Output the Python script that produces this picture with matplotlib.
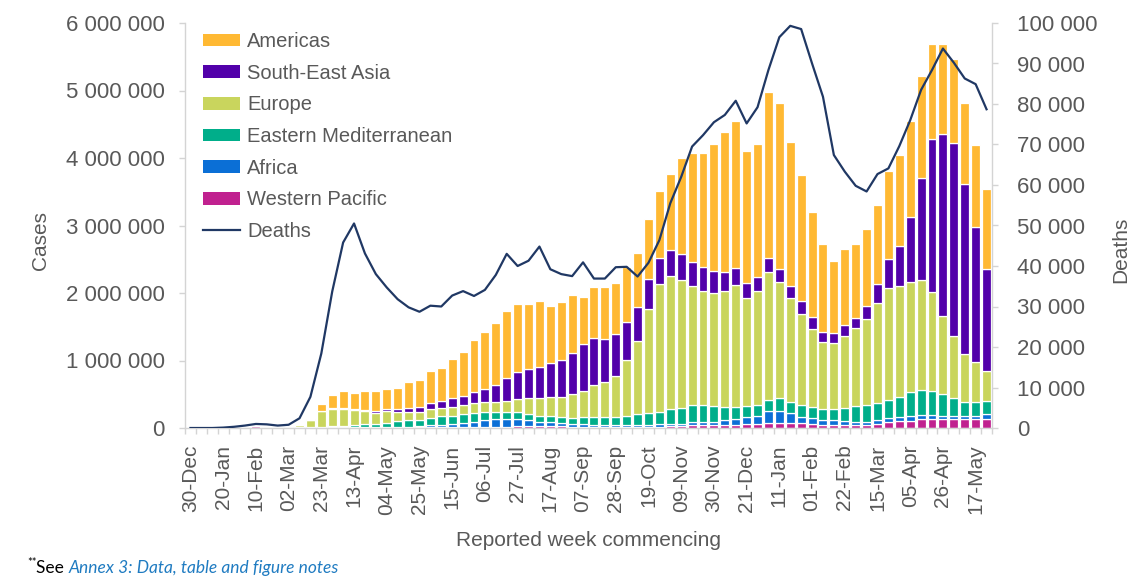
import matplotlib
matplotlib.use('Agg')
import matplotlib.pyplot as plt
import numpy as np
from matplotlib.patches import Patch
from matplotlib.lines import Line2D
from matplotlib.ticker import FuncFormatter, FixedLocator

# ---------------- data (weekly, thousands) ----------------
tick_labels = ["30-Dec", "20-Jan", "10-Feb", "02-Mar", "23-Mar", "13-Apr", "04-May",
               "25-May", "15-Jun", "06-Jul", "27-Jul", "17-Aug", "07-Sep", "28-Sep",
               "19-Oct", "09-Nov", "30-Nov", "21-Dec", "11-Jan", "01-Feb", "22-Feb",
               "15-Mar", "05-Apr", "26-Apr", "17-May"]

western_pacific = [0.1, 0.1, 0.2, 1.5, 10, 18, 25, 10, 5, 6, 5, 4, 5, 6, 7, 8, 7, 6, 5, 7,
                   10, 8, 10, 8, 10, 8, 9, 10, 14, 20, 30, 30, 30, 28, 25, 22, 20, 20, 18, 18,
                   17, 18, 20, 22, 25, 30, 50, 50, 50, 50, 44, 55, 55, 70, 79, 79, 70, 55, 44, 44,
                   44, 44, 44, 59, 84, 104, 108, 133, 133, 133, 133, 133, 133, 133]
africa = [0, 0, 0, 0, 0, 0, 0, 0, 0, 0, 0, 1, 2, 4, 5, 6, 7, 8, 10, 10,
          12, 16, 30, 38, 45, 70, 84, 109, 119, 113, 103, 89, 63, 55, 45, 40, 35, 30, 25, 22,
          22, 25, 27, 30, 30, 35, 43, 43, 45, 69, 85, 112, 127, 182, 177, 148, 97, 89, 75, 75,
          60, 49, 49, 60, 69, 63, 74, 60, 60, 49, 49, 49, 49, 70]
eastern_mediterranean = [0, 0, 0, 0, 0, 0, 0, 0, 1, 5, 7, 9, 12, 18, 22, 26, 41, 41, 63, 87,
                         96, 94, 112, 132, 127, 125, 125, 114, 100, 100, 100, 84, 89, 99, 97, 91, 104, 117, 124, 127,
                         143, 160, 180, 181, 222, 236, 248, 248, 235, 197, 187, 159, 159, 163, 184, 163, 174, 163, 162, 162,
                         188, 233, 248, 256, 262, 288, 347, 370, 360, 322, 258, 208, 208, 197]
europe = [0, 0, 0, 0, 0, 0, 0, 0, 1, 12, 30, 105, 233, 253, 247, 227, 197, 172, 174, 137,
          123, 123, 125, 125, 134, 138, 148, 148, 157, 167, 197, 237, 258, 273, 297, 346, 394, 470, 510, 608,
          825, 1086, 1532, 1896, 1975, 1892, 1763, 1689, 1674, 1714, 1803, 1595, 1693, 1892, 1719, 1540, 1348, 1160, 998, 983,
          1075, 1151, 1274, 1472, 1664, 1653, 1638, 1630, 1466, 1155, 923, 702, 592, 444]
south_east_asia = [0, 0, 0, 0, 0, 0, 0, 0, 0, 0, 0, 1, 3, 8, 10, 12, 15, 18, 29, 45,
                   60, 75, 89, 103, 133, 138, 167, 201, 251, 336, 395, 434, 468, 504, 543, 608, 691, 692, 642, 613,
                   568, 508, 448, 385, 385, 380, 351, 360, 326, 286, 247, 223, 199, 207, 197, 178, 192, 173, 139, 148,
                   159, 148, 192, 286, 425, 588, 963, 1506, 2262, 2697, 2864, 2523, 1991, 1507]
americas = [0, 0, 0, 0, 0, 0, 0, 0, 0, 1, 3, 15, 96, 200, 257, 244, 281, 303, 297, 310,
            376, 395, 474, 480, 569, 651, 771, 845, 919, 997, 1008, 959, 973, 853, 855, 863, 701, 764, 765, 756,
            815, 800, 889, 1002, 1126, 1431, 1624, 1680, 1877, 2074, 2182, 1964, 1970, 2468, 2454, 2125, 1867, 1564, 1308, 1062,
            1121, 1101, 1141, 1171, 1303, 1348, 1423, 1520, 1408, 1333, 1235, 1195, 1220, 1190]
deaths = [0, 0, 0, 0.1, 0.3, 0.6, 1.0, 0.9, 0.6, 0.8, 2.4, 7.7, 18.4, 33.7, 45.8, 50.5, 43.1, 38.0, 34.7, 31.8,
          29.8, 28.7, 30.2, 30.0, 32.7, 33.8, 32.6, 34.1, 37.8, 43.0, 40.0, 41.3, 44.8, 39.2, 38.0, 37.5, 40.9, 36.9, 36.9, 39.7,
          39.8, 37.4, 40.8, 46.4, 55.5, 62.0, 69.5, 72.3, 75.5, 77.3, 80.8, 75.2, 79.2, 88.4, 96.5, 99.3, 98.5, 90.0, 81.8, 67.4,
          63.3, 59.8, 58.4, 62.7, 64.1, 69.6, 76.0, 83.5, 88.4, 93.7, 90.2, 86.3, 84.9, 78.7]

# stacking order bottom -> top
stack = [("Western Pacific", western_pacific, "#C0218F"),
         ("Africa", africa, "#0B6FD6"),
         ("Eastern Mediterranean", eastern_mediterranean, "#00AE8A"),
         ("Europe", europe, "#C9D55D"),
         ("South-East Asia", south_east_asia, "#5200AA"),
         ("Americas", americas, "#FFB933")]
legend_order = ["Americas", "South-East Asia", "Europe", "Eastern Mediterranean",
                "Africa", "Western Pacific"]
line_color = "#203864"
txt = "#595959"
axis_grey = "#d4d4d4"

plt.rcParams['font.family'] = ['Liberation Sans', 'DejaVu Sans']

n = len(americas)
x = np.arange(n)

fig = plt.figure(figsize=(11.35, 5.81), dpi=100)
ax = fig.add_axes([185/1135, 1-428/581, (992-185)/1135, (428-23)/581])

bottom = np.zeros(n)
colors = {}
for name, vals, col in stack:
    v = np.array(vals, dtype=float) * 1000
    ax.bar(x, v, bottom=bottom, width=0.82, color=col, edgecolor='white',
           linewidth=0.9, zorder=2)
    bottom += v
    colors[name] = col

ax.set_xlim(-0.5, n - 0.5)
ax.set_ylim(0, 6_000_000)
ax.set_yticks(np.arange(0, 6_000_001, 1_000_000))

fmt = FuncFormatter(lambda v, p: f"{int(round(v)):,}".replace(",", " "))
ax.yaxis.set_major_formatter(fmt)

ax.set_xticks(np.arange(0, n, 3))
ax.set_xticklabels(tick_labels, rotation=90)
ax.xaxis.set_minor_locator(FixedLocator(np.arange(-0.5, n, 1)))
ax.tick_params(axis='x', which='major', length=0, pad=12, labelsize=15, labelcolor=txt)
ax.tick_params(axis='x', which='minor', length=4, color=axis_grey, width=1)
ax.tick_params(axis='y', which='major', length=4, color=axis_grey, width=1,
               pad=10.5, labelsize=16, labelcolor=txt)

for s in ['top', 'right']:
    ax.spines[s].set_visible(False)
ax.spines['left'].set_color(axis_grey)
ax.spines['bottom'].set_color(axis_grey)
ax.spines['left'].set_linewidth(1)
ax.spines['bottom'].set_linewidth(1)

ax2 = ax.twinx()
ax2.plot(x, np.array(deaths) * 1000, color=line_color, lw=1.6, zorder=3)
ax2.set_ylim(0, 100_000)
ax2.set_yticks(np.arange(0, 100_001, 10_000))
ax2.yaxis.set_major_formatter(fmt)
ax2.tick_params(axis='y', which='major', length=4, color=axis_grey, width=1,
                pad=14, labelsize=16, labelcolor=txt)
for s in ['top', 'left', 'bottom']:
    ax2.spines[s].set_visible(False)
ax2.spines['right'].set_color(axis_grey)
ax2.spines['right'].set_linewidth(1)

ax.set_ylabel("Cases", fontsize=15, color=txt)
ax.yaxis.set_label_coords(-0.167, 0.464)
ax2.set_ylabel("Deaths", fontsize=15, color=txt)
ax2.yaxis.set_label_coords(1.148, 0.44)
ax.set_xlabel("Reported week commencing", fontsize=15, color=txt, labelpad=12)

handles = [Patch(facecolor=colors[nm], edgecolor='none') for nm in legend_order]
handles.append(Line2D([0], [0], color=line_color, lw=1.6))
labels = legend_order + ["Deaths"]
leg = ax2.legend(handles, labels, loc='upper left',
                 bbox_to_anchor=(203/1135, 1-32/581), bbox_transform=fig.transFigure,
                 frameon=False, fontsize=14.5, handlelength=1.85, handleheight=0.6,
                 handletextpad=0.35, labelspacing=0.63, borderaxespad=0, borderpad=0)
for t in leg.get_texts():
    t.set_color(txt)

# footnote
fig.canvas.draw()
r = fig.canvas.get_renderer()
fx, fy = 27/1135, 1 - 573/581
t1 = fig.text(fx, fy + 0.012, "**", fontsize=8, color='black', family='Lato')
bb = t1.get_window_extent(r)
t2 = fig.text(bb.x1/1135, fy, "See ", fontsize=12.5, color='black', family='Lato')
bb2 = t2.get_window_extent(r)
fig.text(bb2.x1/1135, fy, "Annex 3: Data, table and figure notes", fontsize=12.5,
         color='#1F7BC1', style='italic', family='Lato')

fig.savefig("out.png", dpi=100)
